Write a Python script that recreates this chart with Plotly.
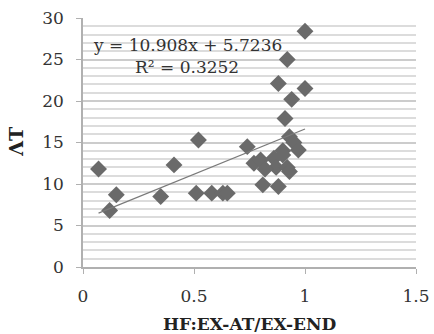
import plotly.graph_objects as go

x_vals = [0.07, 0.12, 0.15, 0.35, 0.41, 0.52, 0.51, 0.58, 0.63, 0.65, 0.74, 0.77,
          0.80, 0.81, 0.86, 0.87, 0.88, 0.90, 0.92, 0.93, 0.93, 0.95, 0.97, 0.91,
          0.94, 0.88, 1.00, 0.92, 1.00, 0.82, 0.90]
y_vals = [11.8, 6.8, 8.7, 8.5, 12.3, 15.3, 8.9, 8.9, 8.9, 8.9, 14.5, 12.5,
          12.9, 9.9, 13.1, 12.0, 9.7, 14.0, 12.0, 11.5, 15.7, 15.0, 14.1, 17.9,
          20.2, 22.1, 21.5, 25.0, 28.4, 11.8, 13.5]

slope = 10.908
intercept = 5.7236
r2 = 0.3252

x_ticks = [0, 0.5, 1, 1.5]
x_tick_labels = ["0", "0.5", "1", "1.5"]
y_ticks = [0, 5, 10, 15, 20, 25, 30]

x_title = "HF:EX-AT/EX-END"
y_title = "ΛT"

FONT = "DejaVu Serif"

fig = go.Figure()

fig.add_trace(go.Scatter(
    x=x_vals, y=y_vals, mode="markers",
    marker=dict(symbol="diamond", size=13, color="#6a6a6a", line=dict(width=0)),
    showlegend=False,
))

xmin, xmax = min(x_vals), max(x_vals)
fig.add_trace(go.Scatter(
    x=[xmin, xmax], y=[slope * xmin + intercept, slope * xmax + intercept],
    mode="lines", line=dict(color="#7a7a7a", width=1.2), showlegend=False,
))

fig.add_annotation(
    x=0.47, y=26.7, xref="x", yref="y",
    text=f"y = {slope}x + {intercept}", showarrow=False,
    font=dict(family=FONT, size=17, color="#333333"),
)
fig.add_annotation(
    x=0.47, y=24.1, xref="x", yref="y",
    text=f"R² = {r2}", showarrow=False,
    font=dict(family=FONT, size=17, color="#333333"),
)
fig.add_annotation(
    x=0.5, y=-0.228, xref="paper", yref="paper", xanchor="center", yanchor="middle",
    text=f"<b>{x_title}</b>", showarrow=False,
    font=dict(family=FONT, size=17, color="#222222"),
)
fig.add_annotation(
    x=-0.2, y=0.505, xref="paper", yref="paper", xanchor="center", yanchor="middle",
    text=f"<b>{y_title}</b>", showarrow=False, textangle=-90,
    font=dict(family=FONT, size=19, color="#222222"),
)

fig.update_layout(
    width=434, height=334,
    margin=dict(l=83, r=18, t=18, b=67, autoexpand=False),
    paper_bgcolor="white", plot_bgcolor="white",
    font=dict(family=FONT, size=17, color="#333333"),
)

fig.update_xaxes(
    range=[0, 1.5], tickvals=x_ticks, ticktext=x_tick_labels,
    showgrid=False, zeroline=False, automargin=False,
    showline=True, linecolor="#b0b0b0", linewidth=1.5,
    ticks="outside", ticklen=5, tickcolor="#b0b0b0",
    ticklabelstandoff=8,
    tickfont=dict(family=FONT, size=17, color="#333333"),
)
fig.update_yaxes(
    range=[0, 30], tickvals=y_ticks, automargin=False,
    showgrid=True, gridcolor="#cccccc", gridwidth=2,
    minor=dict(dtick=1, showgrid=True, gridcolor="#dcdcdc", gridwidth=2),
    zeroline=False,
    showline=True, linecolor="#b0b0b0", linewidth=1.5,
    ticks="outside", ticklen=5, tickcolor="#b0b0b0",
    ticklabelstandoff=9,
    tickfont=dict(family=FONT, size=17, color="#333333"),
)

fig.write_html(
    "out.html",
    config={"displayModeBar": False},
    post_script="document.body.style.margin='0';document.body.style.overflow='hidden';",
)
